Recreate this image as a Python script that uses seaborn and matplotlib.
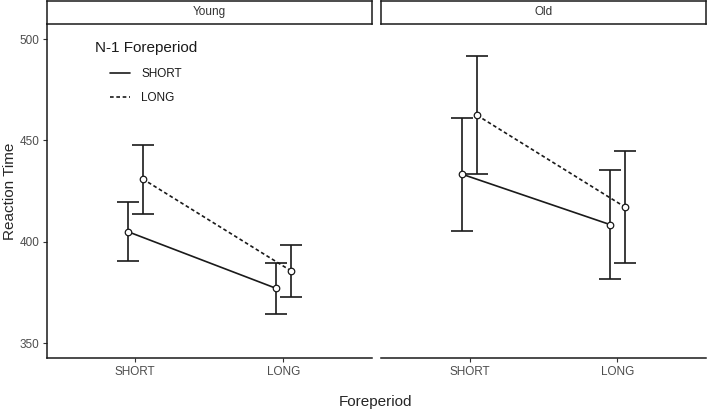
import pandas as pd
import numpy as np
import seaborn as sns
import matplotlib.pyplot as plt
from matplotlib.lines import Line2D

# Values
panels = ['Young', 'Old']
foreperiods = ['SHORT', 'LONG']
n1_levels = ['SHORT', 'LONG']

young_short_n1 = [405.0, 377.1]
young_long_n1 = [431.0, 385.8]
young_short_lo = [390.5, 364.4]
young_short_hi = [419.6, 389.7]
young_long_lo = [413.7, 373.0]
young_long_hi = [447.7, 398.6]

old_short_n1 = [433.3, 408.5]
old_long_n1 = [462.4, 417.2]
old_short_lo = [405.3, 381.5]
old_short_hi = [461.0, 435.4]
old_long_lo = [433.3, 389.7]
old_long_hi = [491.8, 444.8]

rows = []
for group, means, los, his in [
    ('Young', [young_short_n1, young_long_n1], [young_short_lo, young_long_lo], [young_short_hi, young_long_hi]),
    ('Old', [old_short_n1, old_long_n1], [old_short_lo, old_long_lo], [old_short_hi, old_long_hi]),
]:
    for j, n1 in enumerate(n1_levels):
        for i, fp in enumerate(foreperiods):
            rows.append(dict(group=group, fp=fp, n1=n1, rt=means[j][i], lo=los[j][i], hi=his[j][i],
                             x=i + (-0.05 if n1 == 'SHORT' else 0.05)))
df = pd.DataFrame(rows)

sns.set_style('white')
plt.rcParams['font.family'] = ['Liberation Sans', 'DejaVu Sans']

fig = plt.figure(figsize=(7.08, 4.12), dpi=100)
W, H = 708, 412
axes_px = [(46.5, 372), (381, 706)]
top_px, bot_px = 24, 358

styles = {'SHORT': '-', 'LONG': (0, (2.2, 1.6))}

for k, (group, (x0, x1)) in enumerate(zip(panels, axes_px)):
    ax = fig.add_axes([x0 / W, (H - bot_px) / H, (x1 - x0) / W, (bot_px - top_px) / H])
    sub = df[df.group == group]
    for n1 in n1_levels:
        d = sub[sub.n1 == n1]
        ax.errorbar(d.x, d.rt, yerr=[d.rt - d.lo, d.hi - d.rt], fmt='none',
                    ecolor='#1a1a1a', elinewidth=1.2, capsize=8, capthick=1.2, zorder=2)
        sns.lineplot(data=d, x='x', y='rt', ax=ax, color='#1a1a1a', lw=1.2,
                     linestyle=styles[n1], legend=False, zorder=3)
        ax.scatter(d.x, d.rt, s=22, facecolor='white', edgecolor='#1a1a1a', linewidth=0.9, zorder=4)
    ax.set_xlim(-0.6, 1.6)
    ax.set_ylim(342.7, 507.4)
    ax.set_xticks(range(len(foreperiods)))
    ax.set_xticklabels(foreperiods, fontsize=8.5, color='#4d4d4d')
    ax.set_xlabel('')
    ax.set_ylabel('')
    for s in ['top', 'right']:
        ax.spines[s].set_visible(False)
    ax.spines['bottom'].set_color('#1a1a1a')
    ax.spines['bottom'].set_linewidth(1.1)
    if k == 0:
        ax.set_yticks([350, 400, 450, 500])
        ax.tick_params(axis='y', labelsize=8.5, labelcolor='#4d4d4d', length=3, width=0.8,
                       color='#333333', left=True, pad=2)
        ax.spines['left'].set_color('#1a1a1a')
        ax.spines['left'].set_linewidth(1.1)
    else:
        ax.set_yticks([])
        ax.spines['left'].set_visible(False)
    ax.tick_params(axis='x', length=3, width=0.8, color='#333333', bottom=True, pad=3)

    # facet strip
    sax = fig.add_axes([x0 / W, (H - 23.5) / H, (x1 - x0) / W, 22.5 / H])
    sax.set_xticks([])
    sax.set_yticks([])
    for s in sax.spines.values():
        s.set_color('#1a1a1a')
        s.set_linewidth(1.1)
    sax.text(0.5, 0.5, group, ha='center', va='center', fontsize=8.5, color='#333333',
             transform=sax.transAxes)

# legend (title drawn separately so the keys are indented like the reference)
fig.text(95 / W, (H - 48) / H, 'N-1 Foreperiod', ha='left', va='center', fontsize=11, color='#1a1a1a')
handles = [Line2D([], [], color='#1a1a1a', lw=1.2, linestyle=styles[n]) for n in n1_levels]
leg = fig.legend(handles, n1_levels, loc='upper left', bbox_to_anchor=(110 / W, (H - 68) / H),
                 frameon=False, fontsize=8.5, handlelength=1.7, labelspacing=1.0,
                 handletextpad=0.95, borderpad=0, borderaxespad=0)
for t in leg.get_texts():
    t.set_color('#1a1a1a')

fig.text(10 / W, (H - 191) / H, 'Reaction Time', rotation=90, ha='center', va='center', fontsize=11)
fig.text(376 / W, (H - 402) / H, 'Foreperiod', ha='center', va='center', fontsize=11)

plt.savefig('out.png', dpi=100)
plt.close()
